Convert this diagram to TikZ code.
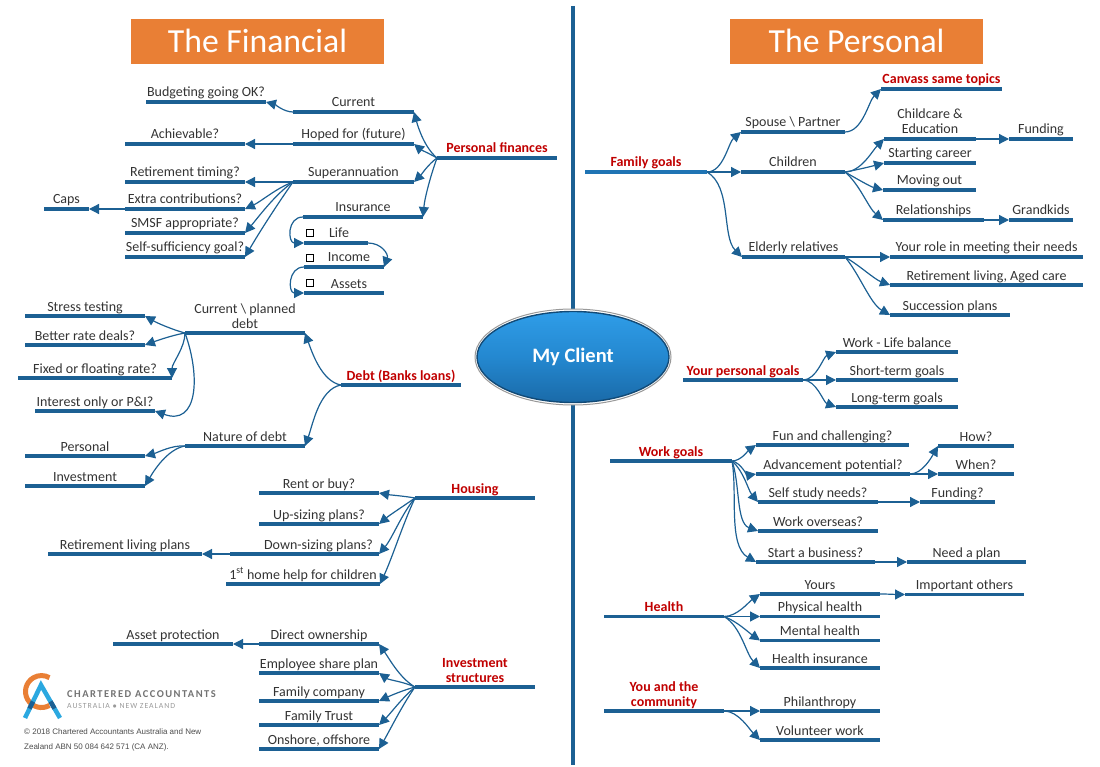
\documentclass[tikz,border=0pt]{standalone}
\usepackage{fontspec}
\setmainfont{Carlito}
\newfontfamily\printfont{Liberation Sans}
\usetikzlibrary{arrows.meta,shapes.geometric}
\definecolor{barblue}{HTML}{1C6093}
\definecolor{famblue}{HTML}{1F74B4}
\definecolor{headred}{HTML}{C00000}
\definecolor{titleorange}{HTML}{E97F35}
\definecolor{inkgrey}{HTML}{333333}
\definecolor{logoblue}{HTML}{2BA8E0}
\definecolor{clientlight}{HTML}{2F9DE8}
\definecolor{clientmid}{HTML}{2488D0}
\definecolor{clientdark}{HTML}{1A6AA8}
\begin{document}
\begin{tikzpicture}[x=1pt, y=-1pt,
    every node/.style={text=inkgrey},
    branch/.style={inner xsep=0pt, inner ysep=2pt, outer sep=0pt, text depth=3pt, align=center,
        font=\fontsize{14}{15}\selectfont},
    heading/.style={branch, text=headred, font=\fontsize{14}{15}\selectfont\bfseries},
    bar/.style={draw=barblue, line width=3.4pt},
    link/.style={draw=barblue, line width=1.2pt, looseness=0.8, -{Triangle[length=10pt,width=10pt]}},
    spine/.style={draw=barblue, line width=3.6pt},
    title/.style={fill=titleorange, text=white, minimum width=253pt, minimum height=45pt,
        font=\fontsize{33.7}{36}\selectfont},
    chkbox/.style={draw=black, line width=1.4pt, minimum size=6.5pt, inner sep=0pt},
    logotext/.style={anchor=west, inner sep=0pt}]

    \useasboundingbox (0,0) rectangle (1100,767);

    % #1 = extra style, #2 = name, #3/#4 = ends of the bar, #5 = bar height, #6 = label
    \newcommand{\topic}[6][branch]{%
        \node[#1, minimum width={(#4-#3)*1pt}, anchor=south west] (#2) at (#3,#5) {#6};
        \draw[bar] (#2.south west) -- (#2.south east);}

    % centre and titles
    \coordinate (spinetop) at (573,6);
    \coordinate (spinebot) at (573,765);
    \draw[spine] (spinetop) -- (spinebot);
    \node[ellipse, minimum width=196pt, minimum height=96pt, draw=black!40, line width=1pt, fill=white] (clientrim) at (573,357) {};
    \node[ellipse, minimum width=192pt, minimum height=91pt, draw=clientdark!70!black, line width=1.4pt,
        top color=clientlight, bottom color=clientdark, middle color=clientmid,
        text=white, font=\fontsize{20.5}{24}\selectfont\bfseries] (client) at (573,357) {\raisebox{-2pt}{My Client}};
    \node[title] (financial) at (257.5,41.5) {\raisebox{1.5pt}{The Financial}};
    \node[title] (personal) at (856.5,41.5) {\raisebox{1.5pt}{The Personal}};

    % personal finances
    \topic[heading]{pers}{437}{557}{158}{Personal finances}
    \topic{current}{293}{414}{112}{Current}
    \topic{budget}{146}{266}{102}{Budgeting going OK?}
    \topic{hoped}{293}{414}{144}{Hoped for (future)}
    \topic{achieve}{125}{245}{144}{Achievable?}
    \topic{super}{293}{414}{182}{Superannuation}
    \topic{timing}{125}{245}{182}{Retirement timing?}
    \topic{extra}{125}{245}{209}{Extra contributions?}
    \topic{caps}{44}{89}{209}{Caps}
    \topic{smsf}{125}{245}{233}{SMSF appropriate?}
    \topic{selfsuff}{125}{245}{257}{Self-sufficiency goal?}
    \topic{insure}{303}{423}{217}{Insurance}
    \topic{life}{304}{368}{243}{\hspace*{6pt}Life}
    \topic{income}{304}{384}{267}{\hspace*{10pt}Income}
    \topic{assets}{304}{384}{293}{\hspace*{10pt}Assets}
    \node[chkbox] (boxlife) at (310,233) {};
    \node[chkbox] (boxincome) at (310,258) {};
    \node[chkbox] (boxassets) at (310,283) {};

    % debt
    \topic[heading]{debt}{341}{461}{385}{Debt (Banks loans)}
    \topic{plandebt}{185}{305}{333}{Current \textbackslash{} planned\\debt}
    \topic{stress}{25}{145}{316}{Stress testing}
    \topic{better}{25}{145}{345}{Better rate deals?}
    \topic{fixed}{18}{172}{378}{Fixed or floating rate?}
    \topic{interest}{35}{155}{411}{Interest only or P\&I?}
    \topic{nature}{185}{305}{446}{Nature of debt}
    \topic{personal}{25}{145}{456}{Personal}
    \topic{invest}{25}{145}{486}{Investment}

    % housing
    \topic[heading]{housing}{415}{535}{498}{Housing}
    \topic{rent}{259}{379}{493}{Rent or buy?}
    \topic{upsize}{259}{379}{524}{Up-sizing plans?}
    \topic{downsize}{230}{379}{554}{\hspace*{28pt}Down-sizing plans?}
    \topic{retplans}{48}{202}{554}{Retirement living plans}
    \topic{firsthome}{226}{380}{584}{1\textsuperscript{st} home help for children}

    % investment structures
    \topic[heading]{structures}{415}{535}{687}{Investment\\structures}
    \topic{direct}{259}{379}{644}{Direct ownership}
    \topic{protect}{113}{233}{644}{Asset protection}
    \topic{share}{259}{379}{673}{Employee share plan}
    \topic{company}{259}{379}{701}{Family company}
    \topic{trust}{259}{379}{725}{Family Trust}
    \topic{onshore}{259}{379}{749}{Onshore, offshore}

    % family goals
    \topic[heading]{family}{585}{707}{172}{Family goals}
    \draw[bar, draw=famblue] (family.south west) -- (family.south east);
    \topic{spouse}{741}{845}{132}{Spouse \textbackslash{} Partner}
    \topic[heading]{canvass}{881}{1002}{89}{Canvass same topics}
    \topic{childcare}{884}{976}{139}{Childcare \&\\Education}
    \topic{funding}{1009}{1073}{139}{Funding}
    \topic{children}{741}{845}{172}{Children}
    \topic{career}{884}{976}{163}{Starting career}
    \topic{moving}{883}{976}{190}{Moving out}
    \topic{relation}{883}{984}{220}{Relationships}
    \topic{grandkids}{1009}{1073}{220}{Grandkids}
    \topic{elderly}{742}{845}{257}{Elderly relatives}
    \topic{role}{890}{1083}{257}{Your role in meeting their needs}
    \topic{aged}{890}{1083}{285}{Retirement living, Aged care}
    \topic{succession}{890}{1010}{315}{Succession plans}

    % personal goals
    \topic[heading]{yourgoals}{683}{803}{380}{Your personal goals}
    \topic{balance}{836}{958}{352}{Work - Life balance}
    \topic{short}{836}{958}{380}{Short-term goals}
    \topic{long}{836}{958}{407}{Long-term goals}

    % work goals
    \topic[heading]{work}{610}{732}{461}{Work goals}
    \topic{fun}{756}{909}{445}{Fun and challenging?}
    \topic{advance}{756}{910}{474}{Advancement potential?}
    \topic{how}{938}{1014}{446}{How?}
    \topic{when}{938}{1014}{474}{When?}
    \topic{study}{758}{878}{502}{Self study needs?}
    \topic{fundq}{920}{995}{502}{Funding?}
    \topic{overseas}{758}{878}{531}{Work overseas?}
    \topic{business}{756}{875}{562}{Start a business?}
    \topic{plan}{907}{1026}{562}{Need a plan}

    % health and community
    \topic[heading]{health}{604}{724}{616.5}{Health}
    \topic{yours}{760}{880}{594}{Yours}
    \topic{others}{905}{1024}{594.5}{Important others}
    \topic{physical}{760}{880}{616.5}{Physical health}
    \topic{mental}{760}{880}{640.5}{Mental health}
    \topic{healthins}{760}{880}{668}{Health insurance}
    \topic[heading]{community}{604}{724}{711}{You and the\\community}
    \topic{philan}{760}{880}{711}{Philanthropy}
    \topic{volunteer}{760}{880}{740}{Volunteer work}

    % links running to the left: parent/child/out/in
    \foreach \parent/\child/\outa/\ina in {
        pers/current/140/-75, pers/hoped/150/-40, pers/super/215/45, pers/insure/250/85,
        current/budget/180/-15, hoped/achieve/180/0, super/timing/180/0, super/extra/200/25,
        super/smsf/215/50, super/selfsuff/235/60, extra/caps/180/0,
        debt/plandebt/170/-70, debt/nature/190/70, plandebt/stress/165/-30, plandebt/better/190/20,
        nature/personal/175/15, nature/invest/190/60,
        housing/rent/170/-10, housing/upsize/215/40, housing/downsize/230/50, housing/firsthome/245/65,
        downsize/retplans/180/0, direct/protect/180/0,
        structures/direct/150/-55, structures/share/155/-35, structures/company/195/25,
        structures/trust/220/45, structures/onshore/235/60}
        \draw[link] (\parent.south west) to[out=\outa, in=\ina] (\child.south east);

    % links running to the right
    \foreach \parent/\child/\outa/\ina in {
        family/spouse/0/220, family/children/0/180, family/elderly/-30/135, spouse/canvass/0/225,
        children/childcare/0/225, children/career/10/195, children/moving/-30/165, children/relation/-40/140,
        childcare/funding/0/180, relation/grandkids/0/180,
        elderly/role/0/180, elderly/aged/-30/160, elderly/succession/-50/150,
        yourgoals/balance/0/200, yourgoals/short/0/180, yourgoals/long/0/160,
        work/fun/0/215, work/advance/-10/190, work/study/-40/130, work/overseas/-70/160, work/business/-80/150,
        advance/how/0/240, advance/when/0/180, study/fundq/0/180, business/plan/0/180,
        health/yours/0/215, health/physical/0/180, health/mental/-20/145, health/healthins/-30/135,
        yours/others/0/180, community/philan/0/180, community/volunteer/0/135}
        \draw[link] (\parent.south east) to[out=\outa, in=\ina] (\child.south west);

    % links that bend round
    \draw[link] (insure.south west) to[out=180, in=180, looseness=1.6] (life.south west);
    \draw[link] (life.south east) to[out=0, in=70, looseness=1.2] (income.south east);
    \draw[link] (income.south west) to[out=180, in=180, looseness=1.6] (assets.south west);
    \draw[link] (plandebt.south west) to[out=-90, in=90] (fixed.south east);
    \draw[link] (plandebt.south west) to[out=-70, in=-20, looseness=1.4] (interest.south east);

    % logo and small print
    \draw[draw=titleorange, line width=5pt] (49.5,705.4) arc[start angle=60, end angle=300, radius=16];
    \draw[draw=logoblue, line width=4.5pt] (25,718) -- (41,685) -- (60,718);
    \draw[draw=barblue, line width=4.5pt] (33,701.5) -- (29.5,708.5);
    \draw[draw=barblue, line width=4.5pt] (50.5,701.5) -- (54.5,708.5);
    \node[logotext, text=black!55, font=\fontsize{10.5}{11}\selectfont\bfseries\addfontfeatures{LetterSpace=14}] (caname) at (67,694) {CHARTERED ACCOUNTANTS};
    \node[logotext, text=black!40, font=\fontsize{7.8}{8}\selectfont\addfontfeatures{LetterSpace=12}] (caplace) at (67,706) {AUSTRALIA $\bullet$ NEW ZEALAND};
    \node[logotext, text=black!70, font=\fontsize{8}{9}\selectfont\printfont] (copyone) at (24,732) {© 2018 Chartered Accountants Australia and New};
    \node[logotext, text=black!70, font=\fontsize{8}{9}\selectfont\printfont] (copytwo) at (24,747) {Zealand ABN 50 084 642 571 (CA ANZ).};

\end{tikzpicture}
\end{document}
